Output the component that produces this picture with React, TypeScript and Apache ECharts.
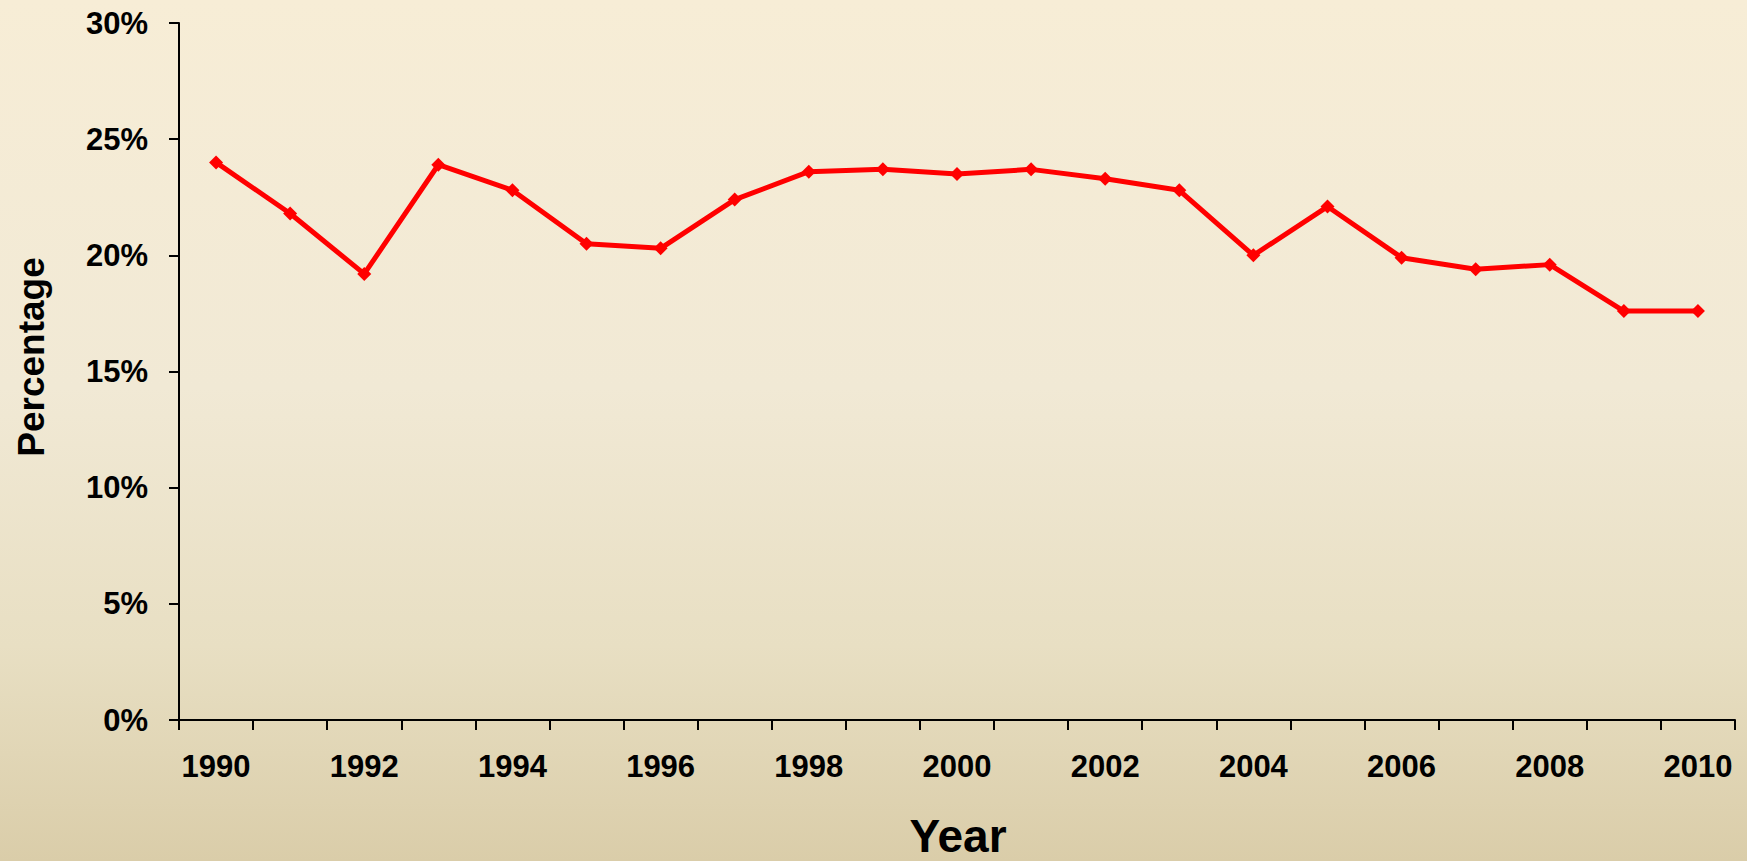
import React, { useEffect, useRef } from "react";
import * as echarts from "echarts";

const years = [
  "1990", "1991", "1992", "1993", "1994", "1995", "1996", "1997", "1998", "1999", "2000",
  "2001", "2002", "2003", "2004", "2005", "2006", "2007", "2008", "2009", "2010",
];
const percentages = [
  24.0, 21.8, 19.2, 23.9, 22.8, 20.5, 20.3, 22.4, 23.6, 23.7, 23.5,
  23.7, 23.3, 22.8, 20.0, 22.1, 19.9, 19.4, 19.6, 17.6, 17.6,
];
const yTitle = "Percentage";
const xTitle = "Year";

export default function App() {
  const ref = useRef<HTMLDivElement>(null);
  useEffect(() => {
    if (!ref.current) return;
    const chart = echarts.init(ref.current, undefined, { renderer: "svg" });
    const font = "'Liberation Sans', Arial, Helvetica, sans-serif";
    chart.setOption({
      animation: false,
      backgroundColor: {
        type: "linear",
        x: 0, y: 0, x2: 0, y2: 1,
        colorStops: [
          { offset: 0, color: "#F7EDD6" },
          { offset: 0.45, color: "#F1E9D5" },
          { offset: 0.75, color: "#E8DFC3" },
          { offset: 1, color: "#DACDA9" },
        ],
      },
      grid: { left: 179, right: 12, top: 23, bottom: 141, containLabel: false },
      xAxis: {
        type: "category",
        data: years,
        boundaryGap: true,
        axisLine: { lineStyle: { color: "#000", width: 2 } },
        axisTick: { show: true, interval: 0, length: 10, lineStyle: { color: "#000", width: 2 } },
        axisLabel: {
          interval: 1,
          margin: 31,
          color: "#000",
          fontSize: 31,
          fontWeight: "bold",
          fontFamily: font,
        },
        splitLine: { show: false },
      },
      yAxis: {
        type: "value",
        min: 0,
        max: 30,
        interval: 5,
        axisLine: { show: true, lineStyle: { color: "#000", width: 2 } },
        axisTick: { show: true, length: 10, lineStyle: { color: "#000", width: 2 } },
        axisLabel: {
          margin: 31,
          color: "#000",
          fontSize: 31,
          fontWeight: "bold",
          fontFamily: font,
          formatter: (v: number) => `${v}%`,
        },
        splitLine: { show: false },
      },
      graphic: [
        {
          type: "text",
          x: 31,
          y: 357,
          rotation: Math.PI / 2,
          style: {
            text: yTitle,
            fill: "#000",
            font: `bold 37px ${font}`,
            lineHeight: 40,
            textAlign: "center",
            textVerticalAlign: "middle",
          },
        },
        {
          type: "text",
          x: 958,
          y: 836,
          style: {
            text: xTitle,
            fill: "#000",
            font: `bold 46px ${font}`,
            lineHeight: 44,
            textAlign: "center",
            textVerticalAlign: "middle",
          },
        },
      ],
      series: [
        {
          type: "line",
          data: percentages,
          symbol: "diamond",
          symbolSize: 14,
          lineStyle: { color: "#FF0000", width: 5 },
          itemStyle: { color: "#FF0000" },
        },
      ],
    });
    return () => chart.dispose();
  }, []);
  return (
    <div
      ref={ref}
      style={{ position: "fixed", left: 0, top: 0, width: 1747, height: 861 }}
    />
  );
}
